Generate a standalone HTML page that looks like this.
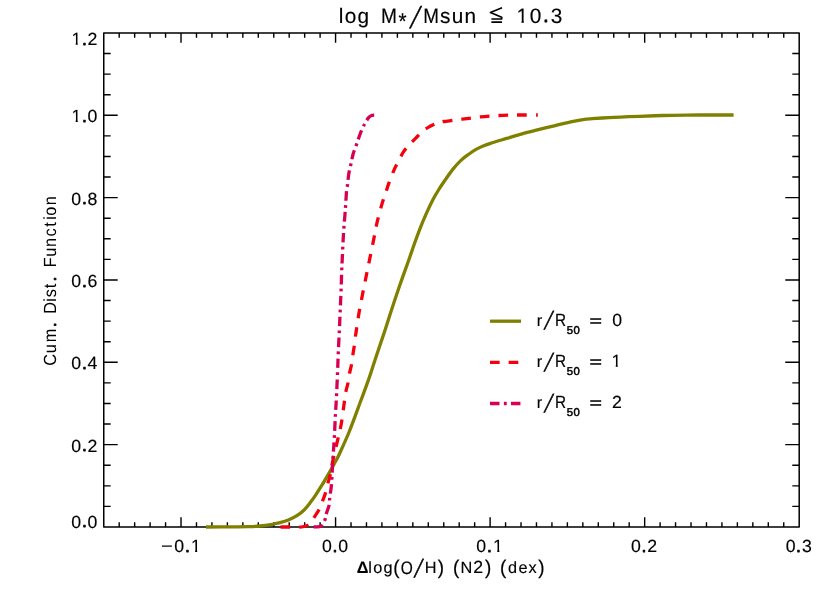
<!DOCTYPE html>
<html lang="en"><head><meta charset="utf-8"><title>log M*/Msun &le; 10.3 - Cum. Dist. Function</title>
<style>
html,body{margin:0;padding:0;background:#fff;}
body{width:830px;height:593px;overflow:hidden;font-family:"Liberation Sans",sans-serif;}
svg{display:block;position:absolute;left:0;top:0;will-change:transform;}
svg text{font-family:"Liberation Sans",sans-serif;fill:#000;stroke:#000;stroke-width:0.15px;text-rendering:geometricPrecision;}
</style></head><body>
<svg width="830" height="593" viewBox="0 0 830 593">
<rect x="0" y="0" width="830" height="593" fill="#fff"/>
<defs><clipPath id="c1" clipPathUnits="userSpaceOnUse"><polygon points="517.66,7.93 523.92,7.93 523.92,22.82 521.42,22.82 521.42,12.76 517.66,12.76"/></clipPath><clipPath id="c2" clipPathUnits="userSpaceOnUse"><polygon points="72.45,32.18 77.78,32.18 77.78,44.86 75.66,44.86 75.66,36.29 72.45,36.29"/></clipPath><clipPath id="c3" clipPathUnits="userSpaceOnUse"><polygon points="72.45,109.77 77.78,109.77 77.78,122.45 75.66,122.45 75.66,113.88 72.45,113.88"/></clipPath><clipPath id="c4" clipPathUnits="userSpaceOnUse"><polygon points="191.85,539.58 197.18,539.58 197.18,552.26 195.06,552.26 195.06,543.69 191.85,543.69"/></clipPath><clipPath id="c5" clipPathUnits="userSpaceOnUse"><polygon points="494.05,539.58 499.38,539.58 499.38,552.26 497.26,552.26 497.26,543.69 494.05,543.69"/></clipPath><clipPath id="c6" clipPathUnits="userSpaceOnUse"><polygon points="612.50,354.18 617.83,354.18 617.83,366.86 615.71,366.86 615.71,358.29 612.50,358.29"/></clipPath></defs>
<rect x="103.75" y="32.95" width="695.45" height="494.05" fill="none" stroke="#000" stroke-width="1.5" stroke-linejoin="round"/>
<path d="M119.20 527.00 V522.15 M119.20 32.95 V37.80 M134.66 527.00 V522.15 M134.66 32.95 V37.80 M150.11 527.00 V522.15 M150.11 32.95 V37.80 M165.57 527.00 V522.15 M165.57 32.95 V37.80 M181.02 527.00 V517.15 M181.02 32.95 V42.80 M196.48 527.00 V522.15 M196.48 32.95 V37.80 M211.93 527.00 V522.15 M211.93 32.95 V37.80 M227.39 527.00 V522.15 M227.39 32.95 V37.80 M242.84 527.00 V522.15 M242.84 32.95 V37.80 M258.29 527.00 V522.15 M258.29 32.95 V37.80 M273.75 527.00 V522.15 M273.75 32.95 V37.80 M289.20 527.00 V522.15 M289.20 32.95 V37.80 M304.66 527.00 V522.15 M304.66 32.95 V37.80 M320.11 527.00 V522.15 M320.11 32.95 V37.80 M335.57 527.00 V517.15 M335.57 32.95 V42.80 M351.02 527.00 V522.15 M351.02 32.95 V37.80 M366.48 527.00 V522.15 M366.48 32.95 V37.80 M381.93 527.00 V522.15 M381.93 32.95 V37.80 M397.38 527.00 V522.15 M397.38 32.95 V37.80 M412.84 527.00 V522.15 M412.84 32.95 V37.80 M428.29 527.00 V522.15 M428.29 32.95 V37.80 M443.75 527.00 V522.15 M443.75 32.95 V37.80 M459.20 527.00 V522.15 M459.20 32.95 V37.80 M474.66 527.00 V522.15 M474.66 32.95 V37.80 M490.11 527.00 V517.15 M490.11 32.95 V42.80 M505.57 527.00 V522.15 M505.57 32.95 V37.80 M521.02 527.00 V522.15 M521.02 32.95 V37.80 M536.47 527.00 V522.15 M536.47 32.95 V37.80 M551.93 527.00 V522.15 M551.93 32.95 V37.80 M567.38 527.00 V522.15 M567.38 32.95 V37.80 M582.84 527.00 V522.15 M582.84 32.95 V37.80 M598.29 527.00 V522.15 M598.29 32.95 V37.80 M613.75 527.00 V522.15 M613.75 32.95 V37.80 M629.20 527.00 V522.15 M629.20 32.95 V37.80 M644.66 527.00 V517.15 M644.66 32.95 V42.80 M660.11 527.00 V522.15 M660.11 32.95 V37.80 M675.56 527.00 V522.15 M675.56 32.95 V37.80 M691.02 527.00 V522.15 M691.02 32.95 V37.80 M706.47 527.00 V522.15 M706.47 32.95 V37.80 M721.93 527.00 V522.15 M721.93 32.95 V37.80 M737.38 527.00 V522.15 M737.38 32.95 V37.80 M752.84 527.00 V522.15 M752.84 32.95 V37.80 M768.29 527.00 V522.15 M768.29 32.95 V37.80 M783.75 527.00 V522.15 M783.75 32.95 V37.80 M103.75 506.41 H110.65 M799.20 506.41 H792.30 M103.75 485.83 H110.65 M799.20 485.83 H792.30 M103.75 465.24 H110.65 M799.20 465.24 H792.30 M103.75 444.66 H117.70 M799.20 444.66 H785.25 M103.75 424.07 H110.65 M799.20 424.07 H792.30 M103.75 403.49 H110.65 M799.20 403.49 H792.30 M103.75 382.90 H110.65 M799.20 382.90 H792.30 M103.75 362.32 H117.70 M799.20 362.32 H785.25 M103.75 341.73 H110.65 M799.20 341.73 H792.30 M103.75 321.15 H110.65 M799.20 321.15 H792.30 M103.75 300.56 H110.65 M799.20 300.56 H792.30 M103.75 279.97 H117.70 M799.20 279.97 H785.25 M103.75 259.39 H110.65 M799.20 259.39 H792.30 M103.75 238.80 H110.65 M799.20 238.80 H792.30 M103.75 218.22 H110.65 M799.20 218.22 H792.30 M103.75 197.63 H117.70 M799.20 197.63 H785.25 M103.75 177.05 H110.65 M799.20 177.05 H792.30 M103.75 156.46 H110.65 M799.20 156.46 H792.30 M103.75 135.88 H110.65 M799.20 135.88 H792.30 M103.75 115.29 H117.70 M799.20 115.29 H785.25 M103.75 94.71 H110.65 M799.20 94.71 H792.30 M103.75 74.12 H110.65 M799.20 74.12 H792.30 M103.75 53.54 H110.65 M799.20 53.54 H792.30" fill="none" stroke="#000" stroke-width="1.4" stroke-linecap="butt"/>
<g fill="none" stroke-linejoin="round" stroke-linecap="butt" stroke-width="3.3">
<path d="M206.00 527.00 C211.00 526.98 228.97 526.95 236.00 526.90 C243.03 526.85 244.17 526.85 248.20 526.70 C252.23 526.55 256.18 526.40 260.20 526.00 C264.22 525.60 269.00 524.85 272.30 524.30 C275.60 523.75 277.32 523.42 280.00 522.70 C282.68 521.98 285.58 521.17 288.40 520.00 C291.22 518.83 294.28 517.37 296.90 515.70 C299.52 514.03 301.90 512.15 304.10 510.00 C306.30 507.85 308.10 505.42 310.10 502.80 C312.10 500.18 314.08 497.32 316.10 494.30 C318.12 491.28 320.18 488.00 322.20 484.70 C324.22 481.40 326.40 477.62 328.20 474.50 C330.00 471.38 331.60 468.48 333.00 466.00 C334.40 463.52 335.37 461.98 336.60 459.60 C337.83 457.22 338.25 456.47 340.40 451.70 C342.55 446.93 346.08 439.53 349.50 431.00 C352.92 422.47 357.78 408.90 360.90 400.50 C364.02 392.10 365.98 386.93 368.20 380.60 C370.42 374.27 372.20 368.52 374.20 362.50 C376.20 356.48 378.38 349.92 380.20 344.50 C382.02 339.08 383.43 335.08 385.10 330.00 C386.77 324.92 388.33 319.75 390.20 314.00 C392.07 308.25 394.28 301.48 396.30 295.50 C398.32 289.52 400.23 283.97 402.30 278.10 C404.37 272.23 406.67 266.07 408.70 260.30 C410.73 254.53 412.53 249.00 414.50 243.50 C416.47 238.00 418.48 232.40 420.50 227.30 C422.52 222.20 424.52 217.53 426.60 212.90 C428.68 208.27 431.07 203.23 433.00 199.50 C434.93 195.77 436.15 193.78 438.20 190.50 C440.25 187.22 442.83 183.37 445.30 179.80 C447.77 176.23 450.43 172.30 453.00 169.10 C455.57 165.90 458.13 163.03 460.70 160.60 C463.27 158.17 465.85 156.37 468.40 154.50 C470.95 152.63 473.45 150.87 476.00 149.40 C478.55 147.93 481.13 146.77 483.70 145.70 C486.27 144.63 487.57 144.22 491.40 143.00 C495.23 141.78 501.58 139.93 506.70 138.40 C511.82 136.87 516.98 135.22 522.10 133.80 C527.22 132.38 531.87 131.27 537.40 129.90 C542.93 128.53 549.75 126.93 555.30 125.60 C560.85 124.27 566.08 122.90 570.70 121.90 C575.32 120.90 579.42 120.13 583.00 119.60 C586.58 119.07 587.87 119.03 592.20 118.70 C596.53 118.37 603.63 117.90 609.00 117.60 C614.37 117.30 619.28 117.12 624.40 116.90 C629.52 116.68 633.27 116.53 639.70 116.30 C646.13 116.07 655.28 115.70 663.00 115.50 C670.72 115.30 678.17 115.18 686.00 115.10 C693.83 115.02 702.07 115.02 710.00 115.00 C717.93 114.98 729.67 115.00 733.60 115.00" stroke="#808000"/>
<path d="M280.50 527.00 C282.08 527.00 286.92 526.97 290.00 527.00 C293.08 527.03 296.67 527.28 299.00 527.20 C301.33 527.12 302.45 526.87 304.00 526.50 C305.55 526.13 307.05 525.83 308.30 525.00 C309.55 524.17 310.50 522.80 311.50 521.50 C312.50 520.20 313.02 519.22 314.30 517.20 C315.58 515.18 317.78 512.20 319.20 509.40 C320.62 506.60 321.70 503.32 322.80 500.40 C323.90 497.48 324.90 494.93 325.80 491.90 C326.70 488.87 327.40 485.30 328.20 482.20 C329.00 479.10 329.83 476.87 330.60 473.30 C331.37 469.73 331.67 466.18 332.80 460.80 C333.93 455.42 336.00 447.08 337.40 441.00 C338.80 434.92 340.07 430.63 341.20 424.30 C342.33 417.97 343.42 408.48 344.20 403.00 C344.98 397.52 345.27 394.73 345.90 391.40 C346.53 388.07 347.40 386.00 348.00 383.00 C348.60 380.00 348.90 376.52 349.50 373.40 C350.10 370.28 351.03 367.42 351.60 364.30 C352.17 361.18 352.45 357.80 352.90 354.70 C353.35 351.60 353.87 348.82 354.30 345.70 C354.73 342.58 355.15 338.63 355.50 336.00 C355.85 333.37 355.83 333.63 356.40 329.90 C356.97 326.17 357.92 319.33 358.90 313.60 C359.88 307.87 361.13 301.52 362.30 295.50 C363.47 289.48 364.72 283.33 365.90 277.50 C367.08 271.67 368.12 266.75 369.40 260.50 C370.68 254.25 372.30 246.43 373.60 240.00 C374.90 233.57 375.80 227.92 377.20 221.90 C378.60 215.88 380.45 209.17 382.00 203.90 C383.55 198.63 385.38 193.68 386.50 190.30 C387.62 186.92 387.43 187.02 388.70 183.60 C389.97 180.18 392.43 173.63 394.10 169.80 C395.77 165.97 397.17 163.53 398.70 160.60 C400.23 157.67 401.63 154.75 403.30 152.20 C404.97 149.65 406.65 147.60 408.70 145.30 C410.75 143.00 413.18 140.83 415.60 138.40 C418.02 135.97 420.78 132.72 423.20 130.70 C425.62 128.68 428.07 127.45 430.10 126.30 C432.13 125.15 433.87 124.40 435.40 123.80 C436.93 123.20 437.90 123.08 439.30 122.70 C440.70 122.32 441.52 121.88 443.80 121.50 C446.08 121.12 449.93 120.78 453.00 120.40 C456.07 120.02 459.13 119.58 462.20 119.20 C465.27 118.82 468.33 118.48 471.40 118.10 C474.47 117.72 477.53 117.23 480.60 116.90 C483.67 116.57 486.72 116.33 489.80 116.10 C492.88 115.87 496.02 115.65 499.10 115.50 C502.18 115.35 505.12 115.28 508.30 115.20 C511.48 115.12 513.28 115.03 518.20 115.00 C523.12 114.97 534.53 115.00 537.80 115.00" stroke="#f6000e" stroke-dasharray="9.65 9.02"/>
<path d="M313.70 527.00 C314.67 526.93 318.18 526.82 319.50 526.60 C320.82 526.38 320.93 526.30 321.60 525.70 C322.27 525.10 322.90 524.12 323.50 523.00 C324.10 521.88 324.70 520.63 325.20 519.00 C325.70 517.37 325.83 515.53 326.50 513.20 C327.17 510.87 328.68 507.33 329.20 505.00 C329.72 502.67 329.40 501.20 329.60 499.20 C329.80 497.20 330.08 495.50 330.40 493.00 C330.72 490.50 331.10 489.57 331.50 484.20 C331.90 478.83 332.33 468.50 332.80 460.80 C333.27 453.10 333.87 445.60 334.30 438.00 C334.73 430.40 335.07 421.53 335.40 415.20 C335.73 408.87 335.95 406.97 336.30 400.00 C336.65 393.03 337.17 381.35 337.50 373.40 C337.83 365.45 337.99 359.45 338.30 352.30 C338.61 345.15 339.03 337.45 339.35 330.50 C339.67 323.55 339.91 317.43 340.20 310.60 C340.49 303.77 340.83 296.53 341.10 289.50 C341.37 282.47 341.62 273.32 341.80 268.40 C341.98 263.48 341.98 264.63 342.20 260.00 C342.42 255.37 342.80 246.25 343.10 240.60 C343.40 234.95 343.68 230.52 344.00 226.10 C344.32 221.68 344.73 217.50 345.00 214.10 C345.27 210.70 345.33 209.67 345.60 205.70 C345.87 201.73 346.27 193.85 346.60 190.30 C346.93 186.75 347.23 187.17 347.60 184.40 C347.97 181.63 348.20 177.28 348.80 173.70 C349.40 170.12 350.47 166.23 351.20 162.90 C351.93 159.57 352.27 156.90 353.20 153.70 C354.13 150.50 355.58 147.15 356.80 143.70 C358.02 140.25 359.18 136.32 360.50 133.00 C361.82 129.68 363.32 126.40 364.70 123.80 C366.08 121.20 367.58 118.80 368.80 117.40 C370.02 116.00 370.92 115.78 372.00 115.40 C373.08 115.02 374.75 115.15 375.30 115.10" stroke="#d90053" stroke-dasharray="9.5 4.4 2.8 4.25"/>
<path d="M490 321.2 H521" stroke="#808000"/>
<path d="M490 362.4 H521" stroke="#f6000e" stroke-dasharray="9.65 9.02"/>
<path d="M490 403.5 H521" stroke="#d90053" stroke-dasharray="9.5 4.4 2.8 4.25"/>
</g>
<text x="338.84 344.72 357.60" y="22.70" font-size="20.80">log</text>
<text transform="matrix(0.9199 0 0.0000 1.0000 380.931 22.700)" x="0" y="0" font-size="20.80">M</text>
<text transform="matrix(0.9966 0 0.0000 1.0958 398.568 28.581)" x="0" y="0" font-size="20.80">*</text>
<text transform="matrix(1.0000 0 -0.4656 1.4652 409.197 27.995)" x="0" y="0" font-size="20.80" style="stroke-width:0.35px">/</text>
<text transform="matrix(0.9055 0 0.0000 1.0000 423.356 22.700)" x="0" y="0" font-size="20.80">M</text>
<text x="440.08 451.63 464.61" y="22.70" font-size="20.80">sun</text>
<path d="M502 7.85 L490.4 12.4 L501.7 17.2 V19 H491.4 M491.4 22.15 H502" fill="none" stroke="#000" stroke-width="1.65" stroke-linejoin="round"/>
<text x="529.72 550.78" y="22.70" font-size="20.80">03</text>
<text x="516.51" y="22.70" font-size="20.80" clip-path="url(#c1)">1</text>
<text x="542.91" y="22.45" font-size="20.80" style="stroke-width:0.75px;stroke-linejoin:round">.</text>
<text x="87.53" y="44.75" font-size="17.70">2</text>
<text x="71.48" y="44.75" font-size="17.70" clip-path="url(#c2)">1</text>
<text x="81.89" y="44.50" font-size="17.70" style="stroke-width:0.75px;stroke-linejoin:round">.</text>
<text x="87.53" y="122.34" font-size="17.70">0</text>
<text x="71.48" y="122.34" font-size="17.70" clip-path="url(#c3)">1</text>
<text x="81.89" y="122.09" font-size="17.70" style="stroke-width:0.75px;stroke-linejoin:round">.</text>
<text x="71.28 87.53" y="204.68" font-size="17.70">08</text>
<text x="81.89" y="204.43" font-size="17.70" style="stroke-width:0.75px;stroke-linejoin:round">.</text>
<text x="71.28 87.47" y="287.03" font-size="17.70">06</text>
<text x="81.89" y="286.78" font-size="17.70" style="stroke-width:0.75px;stroke-linejoin:round">.</text>
<text x="71.28 87.58" y="369.37" font-size="17.70">04</text>
<text x="81.89" y="369.12" font-size="17.70" style="stroke-width:0.75px;stroke-linejoin:round">.</text>
<text x="71.28 87.53" y="451.71" font-size="17.70">02</text>
<text x="81.89" y="451.46" font-size="17.70" style="stroke-width:0.75px;stroke-linejoin:round">.</text>
<text x="71.28 87.53" y="527.60" font-size="17.70">00</text>
<text x="81.89" y="527.35" font-size="17.70" style="stroke-width:0.75px;stroke-linejoin:round">.</text>
<text transform="matrix(1.1392 0 0.0000 1.0000 160.912 552.150)" x="0" y="0" font-size="17.70">−</text>
<text x="174.18" y="552.15" font-size="17.70">0</text>
<text x="184.94" y="551.90" font-size="17.70" style="stroke-width:0.75px;stroke-linejoin:round">.</text>
<text x="190.88" y="552.15" font-size="17.70" clip-path="url(#c4)">1</text>
<text x="322.03 338.28" y="552.15" font-size="17.70">00</text>
<text x="332.44" y="551.90" font-size="17.70" style="stroke-width:0.75px;stroke-linejoin:round">.</text>
<text x="476.33" y="552.15" font-size="17.70">0</text>
<text x="486.94" y="551.90" font-size="17.70" style="stroke-width:0.75px;stroke-linejoin:round">.</text>
<text x="493.08" y="552.15" font-size="17.70" clip-path="url(#c5)">1</text>
<text x="631.08 647.33" y="552.15" font-size="17.70">02</text>
<text x="641.49" y="551.90" font-size="17.70" style="stroke-width:0.75px;stroke-linejoin:round">.</text>
<text x="785.63 801.93" y="552.15" font-size="17.70">03</text>
<text x="796.04" y="551.90" font-size="17.70" style="stroke-width:0.75px;stroke-linejoin:round">.</text>
<text x="356.64" y="573.30" font-size="16.30" font-weight="bold">Δ</text>
<text x="368.24 373.22 383.45" y="573.30" font-size="16.30">log</text>
<text transform="matrix(1.1575 0 0.0000 1.2178 393.230 573.691)" x="0" y="0" font-size="16.30">(</text>
<text transform="matrix(0.9521 0 0.0000 1.1091 400.871 573.719)" x="0" y="0" font-size="16.30">O</text>
<text transform="matrix(1.0000 0 -0.4648 1.5275 413.676 577.351)" x="0" y="0" font-size="16.30" style="stroke-width:0.5px">/</text>
<text x="424.71" y="573.30" font-size="16.30">H</text>
<text transform="matrix(1.1575 0 0.0000 1.2178 437.737 573.691)" x="0" y="0" font-size="16.30">)</text>
<text transform="matrix(1.1575 0 0.0000 1.2178 452.880 573.691)" x="0" y="0" font-size="16.30">(</text>
<text x="460.61" y="573.30" font-size="16.30">N</text>
<text x="473.13" y="573.30" font-size="17.70">2</text>
<text transform="matrix(1.1575 0 0.0000 1.2178 484.887 573.691)" x="0" y="0" font-size="16.30">)</text>
<text transform="matrix(1.1575 0 0.0000 1.2178 499.980 573.691)" x="0" y="0" font-size="16.30">(</text>
<text x="508.00 518.48 528.52" y="573.30" font-size="16.30">dex</text>
<text transform="matrix(1.1575 0 0.0000 1.2178 538.287 573.691)" x="0" y="0" font-size="16.30">)</text>
<g transform="translate(55.8 0) rotate(-90) scale(1 1.08)">
<text x="-365.84 -353.22 -342.14 -313.81 -301.76 -297.16 -288.23 -267.32 -256.82 -246.94 -236.61 -226.63 -219.86 -215.63 -205.14" y="0.00" font-size="16.30" style="stroke-width:0">CumDistFunction</text>
<text x="-327.02" y="-0.25" font-size="16.30" style="stroke-width:0.75px;stroke-linejoin:round">.</text>
<text x="-281.27" y="-0.25" font-size="16.30" style="stroke-width:0.75px;stroke-linejoin:round">.</text>
</g>
<text x="536.69" y="325.50" font-size="16.30">r</text>
<text transform="matrix(1.0000 0 -0.4898 1.5275 543.680 329.451)" x="0" y="0" font-size="16.30" style="stroke-width:0.5px">/</text>
<text transform="matrix(0.9415 0 0.0000 1.0790 555.092 325.500)" x="0" y="0" font-size="16.30">R</text>
<text x="566.67 573.51" y="334.10" font-size="11.30" style="stroke-width:0.5px">50</text>
<text transform="matrix(1.2090 0 0.0000 0.8597 589.451 325.757)" x="0" y="0" font-size="17.70" style="stroke-width:0.45px">=</text>
<text x="612.13" y="325.60" font-size="17.70">0</text>
<text x="536.69" y="366.65" font-size="16.30">r</text>
<text transform="matrix(1.0000 0 -0.4898 1.5275 543.680 370.601)" x="0" y="0" font-size="16.30" style="stroke-width:0.5px">/</text>
<text transform="matrix(0.9415 0 0.0000 1.0790 555.092 366.650)" x="0" y="0" font-size="16.30">R</text>
<text x="566.67 573.51" y="375.25" font-size="11.30" style="stroke-width:0.5px">50</text>
<text transform="matrix(1.2090 0 0.0000 0.8597 589.451 366.907)" x="0" y="0" font-size="17.70" style="stroke-width:0.45px">=</text>
<text x="611.53" y="366.75" font-size="17.70" clip-path="url(#c6)">1</text>
<text x="536.69" y="407.80" font-size="16.30">r</text>
<text transform="matrix(1.0000 0 -0.4898 1.5275 543.680 411.751)" x="0" y="0" font-size="16.30" style="stroke-width:0.5px">/</text>
<text transform="matrix(0.9415 0 0.0000 1.0790 555.092 407.800)" x="0" y="0" font-size="16.30">R</text>
<text x="566.67 573.51" y="416.40" font-size="11.30" style="stroke-width:0.5px">50</text>
<text transform="matrix(1.2090 0 0.0000 0.8597 589.451 408.057)" x="0" y="0" font-size="17.70" style="stroke-width:0.45px">=</text>
<text x="611.88" y="407.90" font-size="17.70">2</text>
</svg>
</body></html>
